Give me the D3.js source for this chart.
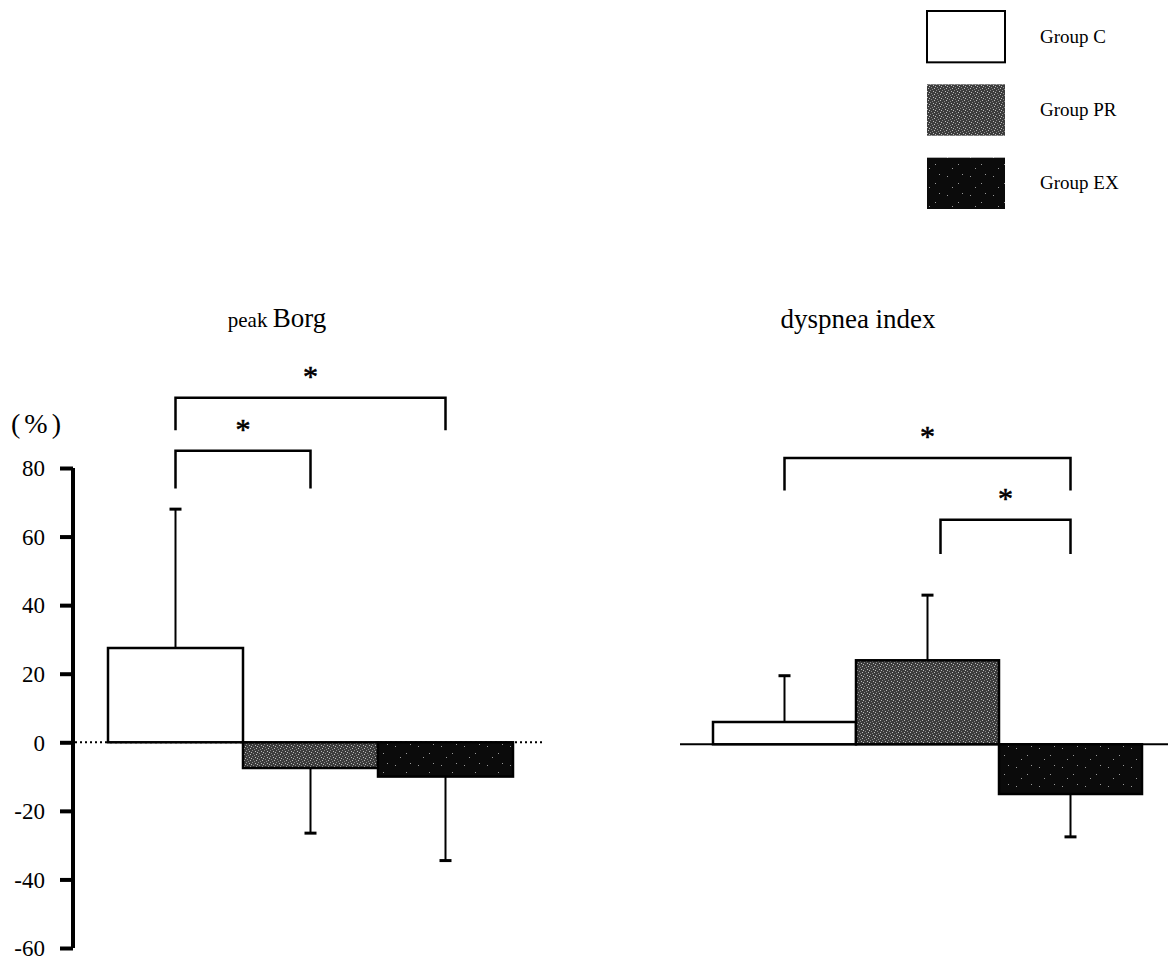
<!DOCTYPE html>
<html>
<head>
<meta charset="utf-8">
<script src="https://cdn.jsdelivr.net/npm/d3@7"></script>
<style>
  html, body { margin: 0; padding: 0; background: #fff; }
  svg { display: block; }
  text { font-family: "Liberation Serif", "DejaVu Serif", serif; fill: #000; }
</style>
</head>
<body>
<svg id="chart" width="1168" height="965"></svg>
<script>
// Groups and legend labels
const groups = ["C", "PR", "EX"];
const groupLabels = ["Group C", "Group PR", "Group EX"];

// Percent change from baseline (mean) and SD for each measure
const borgMean = [27.5, -7.5, -10];
const borgSD = [40.5, 19, 24.5];
const dyspneaMean = [6.5, 24.5, -14.5];
const dyspneaSD = [13.5, 19, 12.5];

// Y-axis ticks
const yTicks = [-60, -40, -20, 0, 20, 40, 60, 80];

// Significance brackets: [from group, to group, level (%), drop (%)]
const borgBrackets = [["C", "EX", 100.5, 9.5], ["C", "PR", 85, 11]];
const dyspneaBrackets = [["C", "EX", 83.5, 9.5], ["PR", "EX", 65.5, 10]];

const svg = d3.select("#chart");

const y = d3.scaleLinear().domain([-60, 80]).range([948, 468]);

// fill patterns: speckled grey and near-black
const defs = svg.append("defs");
const pr = defs.append("pattern").attr("id", "fillPR").attr("patternUnits", "userSpaceOnUse")
  .attr("width", 6).attr("height", 6);
pr.append("rect").attr("width", 6).attr("height", 6).attr("fill", "#3c3c3c");
[[0,0],[3,1],[1,3],[4,4],[2,5],[5,2]].forEach(([a,b],i) =>
  pr.append("rect").attr("x", a).attr("y", b).attr("width", 1).attr("height", 1)
    .attr("fill", i % 2 ? "#bdbdbd" : "#8a8a8a"));
const ex = defs.append("pattern").attr("id", "fillEX").attr("patternUnits", "userSpaceOnUse")
  .attr("width", 23).attr("height", 19);
ex.append("rect").attr("width", 23).attr("height", 19).attr("fill", "#0b0b0b");
[[4,5],[15,12],[19,3],[9,16]].forEach(([a,b]) =>
  ex.append("rect").attr("x", a).attr("y", b).attr("width", 1).attr("height", 1).attr("fill", "#9a9a9a"));

const fills = { C: "#fff", PR: "url(#fillPR)", EX: "url(#fillEX)" };

// ---- left y axis ----
const axisG = svg.append("g").attr("transform", "translate(73,0)");
axisG.call(d3.axisLeft(y).tickValues(yTicks).tickSize(13).tickPadding(16).tickFormat(d => String(d)));
axisG.attr("font-family", "Liberation Serif").attr("font-size", 23);
axisG.select(".domain").attr("d", `M0,${y(-60)}V${y(80)}`).attr("stroke", "#000").attr("stroke-width", 4);
axisG.selectAll(".tick line").attr("stroke", "#000").attr("stroke-width", 4);
axisG.selectAll(".tick text").attr("fill", "#000").attr("x", -28).attr("dy", "0.34em");

svg.append("text").attr("x", 11).attr("y", 433).attr("font-size", 28)
  .attr("letter-spacing", 4).text("(%)");

// ---- a panel of bars ----
function panel(range, means, sds, zeroShift, brackets, zeroStyle) {
  const x = d3.scaleBand().domain(groups).range(range).padding(0);
  const g = svg.append("g").attr("transform", `translate(0,${zeroShift})`);

  // baseline
  const base = g.append("line")
    .attr("x1", zeroStyle.x1).attr("x2", zeroStyle.x2)
    .attr("y1", y(0)).attr("y2", y(0))
    .attr("stroke", "#000").attr("stroke-width", zeroStyle.w);
  if (zeroStyle.dash) base.attr("stroke-dasharray", zeroStyle.dash);

  const data = groups.map((k, i) => ({ k, m: means[i], sd: sds[i] }));

  // error bars (drawn away from zero)
  data.forEach(d => {
    const cx = x(d.k) + x.bandwidth() / 2;
    const tip = d.m >= 0 ? d.m + d.sd : d.m - d.sd;
    g.append("line").attr("x1", cx).attr("x2", cx).attr("y1", y(d.m)).attr("y2", y(tip))
      .attr("stroke", "#000").attr("stroke-width", 2);
    g.append("line").attr("x1", cx - 6).attr("x2", cx + 6).attr("y1", y(tip)).attr("y2", y(tip))
      .attr("stroke", "#000").attr("stroke-width", 3);
  });

  g.selectAll("rect.bar").data(data).join("rect").attr("class", "bar")
    .attr("x", d => x(d.k))
    .attr("width", x.bandwidth())
    .attr("y", d => y(Math.max(0, d.m)))
    .attr("height", d => Math.abs(y(d.m) - y(0)))
    .attr("fill", d => fills[d.k])
    .attr("stroke", "#000").attr("stroke-width", 2.5);

  // significance brackets
  brackets.forEach(([a, b, lvl, drop]) => {
    let xa = x(a) + x.bandwidth() / 2;
    const xb = x(b) + x.bandwidth() / 2;
    if (a === "PR" && b === "EX" && range[0] > 600) xa += 13;
    g.append("path")
      .attr("d", `M${xa},${y(lvl - drop)}V${y(lvl)}H${xb}V${y(lvl - drop)}`)
      .attr("fill", "none").attr("stroke", "#000").attr("stroke-width", 2.5);
    g.append("text").attr("x", (xa + xb) / 2).attr("y", y(lvl) - 12)
      .attr("text-anchor", "middle").attr("font-size", 30)
      .attr("stroke", "#000").attr("stroke-width", 0.6).text("*");
  });
  return x;
}

panel([108, 513], borgMean, borgSD, 0, borgBrackets, { x1: 75, x2: 543, w: 2, dash: "2,3" });
panel([713, 1142], dyspneaMean, dyspneaSD, 2, dyspneaBrackets, { x1: 680, x2: 1168, w: 2 });

// ---- panel titles ----
const t1 = svg.append("text").attr("x", 277).attr("y", 327).attr("text-anchor", "middle");
t1.append("tspan").attr("font-size", 21).text("peak ");
t1.append("tspan").attr("font-size", 27).text("Borg");
svg.append("text").attr("x", 858).attr("y", 328).attr("text-anchor", "middle")
  .attr("font-size", 27).text("dyspnea index");

// ---- legend ----
const leg = svg.append("g");
const ly = d3.scaleBand().domain(groups).range([11, 209]).paddingInner(0.3);
groups.forEach((k, i) => {
  leg.append("rect").attr("x", 927).attr("y", ly(k)).attr("width", 78).attr("height", ly.bandwidth())
    .attr("fill", fills[k]).attr("stroke", k === "C" ? "#000" : "none").attr("stroke-width", 2);
  leg.append("text").attr("x", 1040).attr("y", ly(k) + ly.bandwidth() / 2 + 6)
    .attr("font-size", 19).text(groupLabels[i]);
});
</script>
</body>
</html>
